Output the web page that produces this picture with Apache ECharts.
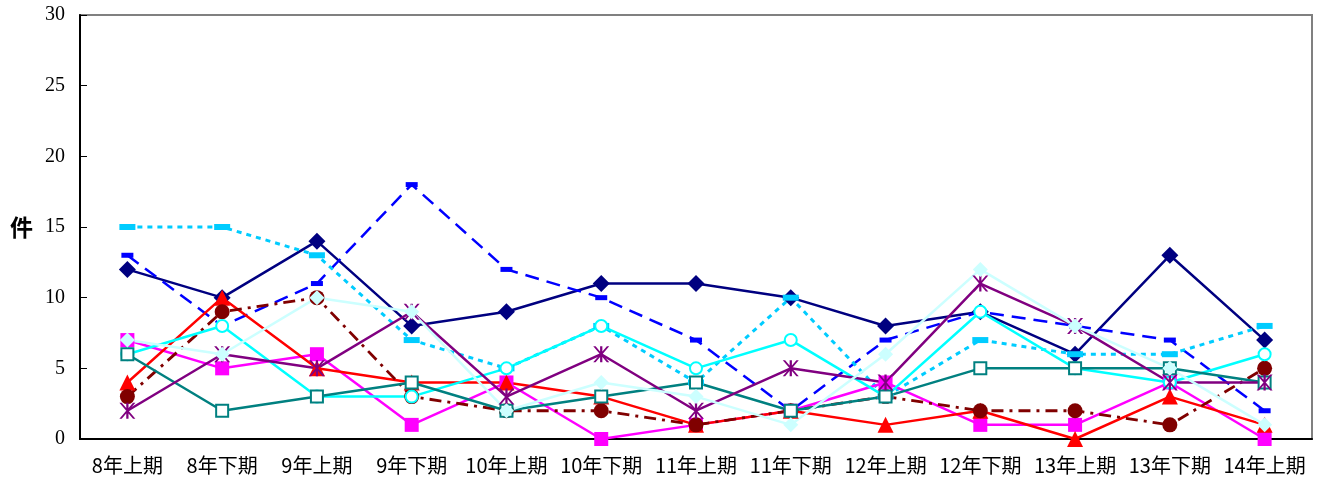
<!DOCTYPE html>
<html>
<head>
<meta charset="utf-8">
<script src="https://cdn.jsdelivr.net/npm/echarts@6/dist/echarts.min.js"></script>
<style>
  html, body { margin: 0; padding: 0; background: #fff; }
  #chart { width: 1326px; height: 482px; }
</style>
</head>
<body>
<div id="chart"></div>
<script>
// Half-year periods
const categories = ['8年上期', '8年下期', '9年上期', '9年下期', '10年上期', '10年下期', '11年上期',
  '11年下期', '12年上期', '12年下期', '13年上期', '13年下期', '14年上期'];

// Counts per series (件)
const navyDiamond   = [12, 10, 14, 8, 9, 11, 11, 10, 8, 9, 6, 13, 7];
const blueDashed    = [13, 8, 11, 18, 12, 10, 7, 2, 7, 9, 8, 7, 2];
const skyDotted     = [15, 15, 13, 7, 5, 8, 4, 10, 3, 7, 6, 6, 8];
const magentaSquare = [7, 5, 6, 1, 4, 0, 1, 2, 4, 1, 1, 4, 0];
const redTriangle   = [4, 10, 5, 4, 4, 3, 1, 2, 1, 2, 0, 3, 1];
const maroonCircle  = [3, 9, 10, 3, 2, 2, 1, 2, 3, 2, 2, 1, 5];
const cyanCircle    = [6, 8, 3, 3, 5, 8, 5, 7, 3, 9, 5, 4, 6];
const tealSquare    = [6, 2, 3, 4, 2, 3, 4, 2, 3, 5, 5, 5, 4];
const purpleStar    = [2, 6, 5, 9, 3, 6, 2, 5, 4, 11, 8, 4, 4];
const paleDiamond   = [7, 6, 10, 9, 2, 4, 3, 1, 6, 12, 8, 5, 1];

const yTicks = { min: 0, max: 30, interval: 5 };

// Asterisk marker: vertical bar plus two diagonals
const asterisk = 'path://M-1.2,-10L1.2,-10L1.2,10L-1.2,10Z M-8.5,-10L-6,-10L8.5,10L6,10Z M6,-10L8.5,-10L-6,10L-8.5,10Z';

function line(name, data, color, symbol, size, lineType, extra) {
  return Object.assign({
    name, type: 'line', data,
    symbol, symbolSize: size,
    showSymbol: true,
    lineStyle: { color, width: 2.5, type: lineType || 'solid' },
    itemStyle: { color, borderColor: color, borderWidth: 0 },
    emphasis: { disabled: true },
    animation: false
  }, extra || {});
}

const series = [
  line('a', navyDiamond, '#000080', 'diamond', 17),
  line('b', blueDashed, '#0000FF', 'rect', [12, 5], null, { lineStyle: { color: '#0000FF', width: 2.5, type: [14, 8] } }),
  line('c', skyDotted, '#00CCFF', 'rect', [16, 6], null, { lineStyle: { color: '#00CCFF', width: 3, type: [5, 5] } }),
  line('d', magentaSquare, '#FF00FF', 'rect', 14),
  line('e', redTriangle, '#FF0000', 'triangle', 16),
  line('f', maroonCircle, '#800000', 'circle', 15, null, { lineStyle: { color: '#800000', width: 2.8, type: [12, 6, 3, 6] } }),
  line('g', cyanCircle, '#00FFFF', 'emptyCircle', 12, 'solid', { itemStyle: { color: '#00FFFF', borderColor: '#00FFFF', borderWidth: 2.5 } }),
  line('h', tealSquare, '#008080', 'emptyRect', 12, 'solid', { itemStyle: { color: '#008080', borderColor: '#008080', borderWidth: 2.5 } }),
  line('i', purpleStar, '#800080', asterisk, 16),
  line('j', paleDiamond, '#CCFFFF', 'diamond', 15)
];

const chart = echarts.init(document.getElementById('chart'), null, { renderer: 'canvas' });
chart.setOption({
  backgroundColor: '#fff',
  animation: false,
  grid: {
    left: 80, right: 14, top: 15, bottom: 43,
    containLabel: false,
    outerBoundsMode: 'none',
    show: true, borderColor: '#808080', borderWidth: 2, backgroundColor: 'transparent'
  },
  xAxis: {
    type: 'category',
    data: categories,
    boundaryGap: true,
    axisLine: { lineStyle: { color: '#000', width: 2 } },
    axisTick: { inside: true, length: 6, lineStyle: { color: '#000', width: 1 } },
    axisLabel: { color: '#000', fontSize: 20, margin: 16, interval: 0, fontFamily: '"Noto Sans CJK JP", sans-serif' },
    splitLine: { show: false }
  },
  yAxis: {
    type: 'value',
    min: yTicks.min, max: yTicks.max, interval: yTicks.interval,
    name: '件',
    nameLocation: 'middle',
    nameRotate: 0,
    nameGap: 47,
    nameTextStyle: { color: '#000', fontSize: 23, fontWeight: 'bold', fontFamily: '"Noto Sans CJK JP", sans-serif' },
    axisLine: { show: true, lineStyle: { color: '#000', width: 2 } },
    axisTick: { show: true, inside: true, length: 7, lineStyle: { color: '#000', width: 1 } },
    axisLabel: { color: '#000', fontSize: 20, margin: 15, fontFamily: '"Liberation Serif", serif' },
    splitLine: { show: false }
  },
  series
});
</script>
</body>
</html>
